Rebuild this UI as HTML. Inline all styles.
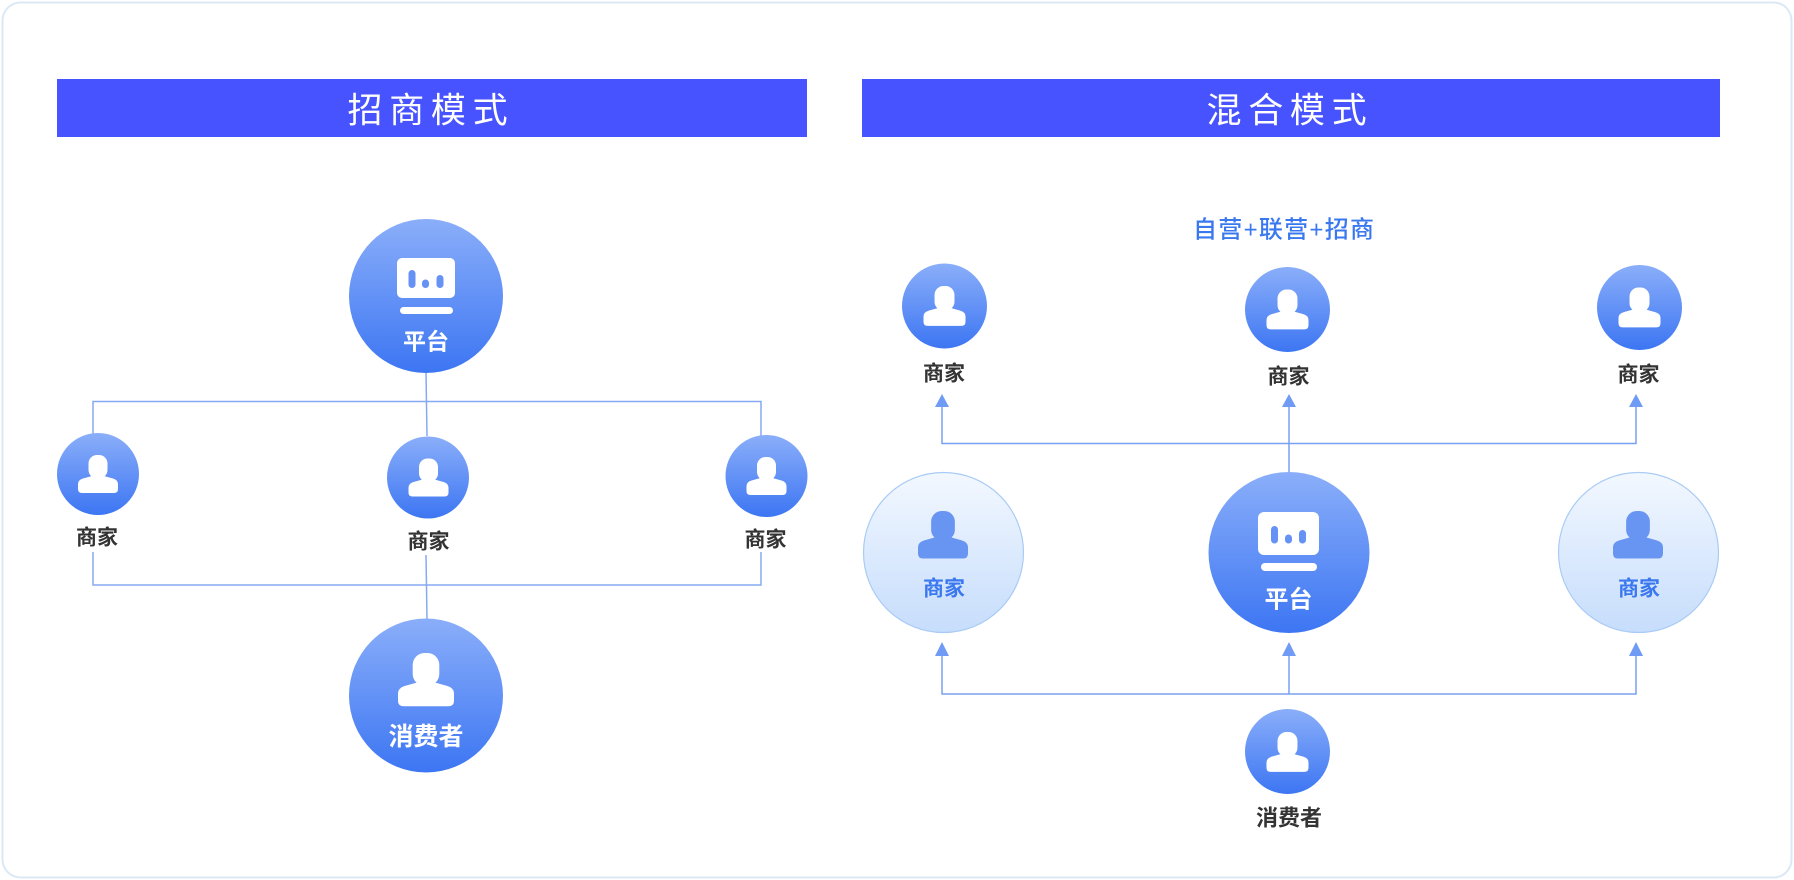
<!DOCTYPE html>
<html><head><meta charset="utf-8"><style>
html,body{margin:0;padding:0;background:#fff;}
svg{display:block;}
text{font-family:"Liberation Sans","Noto Sans CJK SC",sans-serif;}
</style></head><body>
<svg width="1794" height="880" viewBox="0 0 1794 880" xmlns="http://www.w3.org/2000/svg">
<defs>
<linearGradient id="gb" x1="0" y1="0" x2="0" y2="1"><stop offset="0" stop-color="#8aaef9"/><stop offset="1" stop-color="#3d76f3"/></linearGradient>
<linearGradient id="gl" x1="0" y1="0" x2="0" y2="1"><stop offset="0" stop-color="#f3f8ff"/><stop offset="1" stop-color="#c6ddfc"/></linearGradient>
<g id="person">
<rect x="10.5" y="0" width="19" height="23.5" rx="8.5"/>
<path d="M4,38 H36 Q40,38 40,34 V29 Q40,25 35,23.5 L26,21 H14 L5,23.5 Q0,25 0,29 V34 Q0,38 4,38 Z"/>
</g>
</defs>
<rect x="2.5" y="2.5" width="1789" height="875" rx="18" fill="#fff" stroke="#dce8f6" stroke-width="2"/>

<!-- title bars -->
<rect x="57" y="79" width="750" height="58" fill="#4753ff"/>
<text x="347.5" y="122.5" font-size="35" fill="#fff" letter-spacing="6.7">招商模式</text>
<rect x="862" y="79" width="858" height="58" fill="#4753ff"/>
<text x="1206.5" y="122.5" font-size="35" fill="#fff" letter-spacing="6.7">混合模式</text>

<!-- LEFT DIAGRAM lines -->
<g stroke="#86a9f3" stroke-width="1.5" fill="none">
<line x1="426" y1="373" x2="427" y2="436"/>
<polyline points="93,434 93,401.5 761,401.5 761,436"/>
<polyline points="93,552 93,585 761,585 761,552"/>
<line x1="426" y1="555" x2="427" y2="619"/>
</g>

<!-- platform left -->
<circle cx="426" cy="296" r="77" fill="url(#gb)"/>
<rect x="397" y="258" width="58" height="40" rx="5" fill="#fff"/>
<rect x="408.5" y="270" width="7" height="18" rx="3.5" fill="#6692f6"/>
<rect x="422" y="279.5" width="7" height="8.5" rx="3.5" fill="#6692f6"/>
<rect x="436.5" y="275" width="7" height="13" rx="3.5" fill="#6692f6"/>
<rect x="400" y="307" width="53" height="7" rx="3.5" fill="#fff"/>
<text x="426" y="349.5" font-size="23" font-weight="700" fill="#fff" text-anchor="middle">平台</text>

<!-- merchants left -->
<circle cx="98" cy="474" r="41" fill="url(#gb)"/>
<use href="#person" fill="#fff" transform="translate(78,455)"/>
<text x="97" y="544.5" font-size="21" font-weight="700" fill="#333" text-anchor="middle">商家</text>

<circle cx="428" cy="477.5" r="41" fill="url(#gb)"/>
<use href="#person" fill="#fff" transform="translate(408.5,458.5)"/>
<text x="428.5" y="548.5" font-size="21" font-weight="700" fill="#333" text-anchor="middle">商家</text>

<circle cx="766.5" cy="476" r="41" fill="url(#gb)"/>
<use href="#person" fill="#fff" transform="translate(746.5,457)"/>
<text x="765.5" y="546.5" font-size="21" font-weight="700" fill="#333" text-anchor="middle">商家</text>

<!-- consumer left -->
<circle cx="426" cy="695.5" r="77" fill="url(#gb)"/>
<use href="#person" fill="#fff" transform="translate(398,653) scale(1.4)"/>
<text x="426" y="745" font-size="25" font-weight="700" fill="#fff" text-anchor="middle">消费者</text>

<!-- RIGHT DIAGRAM -->
<text x="1193" y="237.3" font-size="24" font-weight="500" fill="#3a78f0" textLength="181" lengthAdjust="spacing">自营+联营+招商</text>

<g stroke="#78a1f4" stroke-width="1.5" fill="none">
<polyline points="942,406 942,443.5 1636,443.5 1636,406"/>
<line x1="1289" y1="406" x2="1289" y2="473"/>
<polyline points="942,655 942,694 1636,694 1636,655"/>
<line x1="1289" y1="655" x2="1289" y2="694"/>
</g>
<g fill="#6f9bf4">
<polygon points="942,394 935,407 949,407"/>
<polygon points="1289,394 1282,407 1296,407"/>
<polygon points="1636,394 1629,407 1643,407"/>
<polygon points="942,642 935,656 949,656"/>
<polygon points="1289,642 1282,656 1296,656"/>
<polygon points="1636,642 1629,656 1643,656"/>
</g>

<!-- top merchants -->
<circle cx="944.5" cy="306" r="42.5" fill="url(#gb)"/>
<use href="#person" fill="#fff" transform="translate(923.5,286) scale(1.05)"/>
<text x="944" y="380.5" font-size="21" font-weight="700" fill="#333" text-anchor="middle">商家</text>

<circle cx="1287.5" cy="309.5" r="42.5" fill="url(#gb)"/>
<use href="#person" fill="#fff" transform="translate(1266.5,289.5) scale(1.05)"/>
<text x="1288.5" y="383.5" font-size="21" font-weight="700" fill="#333" text-anchor="middle">商家</text>

<circle cx="1639.5" cy="307.5" r="42.5" fill="url(#gb)"/>
<use href="#person" fill="#fff" transform="translate(1618.5,287.5) scale(1.05)"/>
<text x="1638.5" y="381.5" font-size="21" font-weight="700" fill="#333" text-anchor="middle">商家</text>

<!-- light merchants -->
<circle cx="943.5" cy="552.5" r="80" fill="url(#gl)" stroke="#a9cbf5" stroke-width="1.2"/>
<use href="#person" fill="#6895f2" transform="translate(918,511) scale(1.25)"/>
<text x="944" y="595.5" font-size="21" font-weight="700" fill="#3b78ef" text-anchor="middle">商家</text>

<circle cx="1638.5" cy="552.5" r="80" fill="url(#gl)" stroke="#a9cbf5" stroke-width="1.2"/>
<use href="#person" fill="#6895f2" transform="translate(1613,511) scale(1.25)"/>
<text x="1639" y="595.5" font-size="21" font-weight="700" fill="#3b78ef" text-anchor="middle">商家</text>

<!-- platform right -->
<circle cx="1289" cy="552.5" r="80.5" fill="url(#gb)"/>
<rect x="1258" y="512" width="61" height="43" rx="6" fill="#fff"/>
<rect x="1271" y="526" width="7" height="17.5" rx="3.5" fill="#6692f6"/>
<rect x="1285" y="534.5" width="7" height="9" rx="3.5" fill="#6692f6"/>
<rect x="1299" y="530" width="7" height="13.5" rx="3.5" fill="#6692f6"/>
<rect x="1261" y="563" width="56" height="8" rx="4" fill="#fff"/>
<text x="1288.5" y="607.3" font-size="24" font-weight="700" fill="#fff" text-anchor="middle">平台</text>

<!-- consumer right -->
<circle cx="1287.5" cy="751.5" r="42.5" fill="url(#gb)"/>
<use href="#person" fill="#fff" transform="translate(1266.5,732) scale(1.05)"/>
<text x="1289" y="825.5" font-size="22" font-weight="700" fill="#333" text-anchor="middle">消费者</text>
</svg>
</body></html>
